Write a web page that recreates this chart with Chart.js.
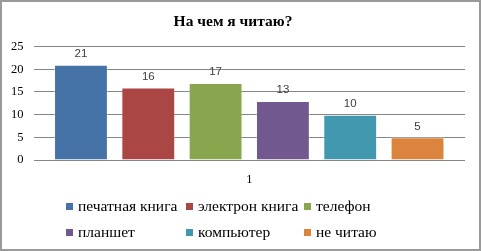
<!DOCTYPE html>
<html>
<head>
<meta charset="utf-8">
<script src="https://cdn.jsdelivr.net/npm/chart.js@4/dist/chart.umd.min.js"></script>
<style>
  html, body { margin: 0; padding: 0; background: #fff; }
  #wrap { position: relative; width: 481px; height: 251px; box-sizing: border-box; border: 2px solid #9a9a9a; }
  #chart { position: absolute; left: -2px; top: -2px; }
  #legend { position: absolute; left: 64px; top: 195px; display: grid; grid-template-columns: 120px 118px 120px; row-gap: 8px;
            font: 15.5px "Liberation Serif", "Times New Roman", serif; color: #000; }
  #legend div { display: flex; align-items: center; height: 18px; white-space: nowrap; }
  #legend span.box { display: inline-block; width: 7px; height: 7px; margin-right: 5px; }
</style>
</head>
<body>
<div id="wrap">
  <canvas id="chart" width="481" height="251"></canvas>
  <div id="legend"></div>
</div>
<script>
const titleText = "На чем я читаю?";
const categories = ["1"];
const seriesNames = ["печатная книга", "электрон книга", "телефон", "планшет", "компьютер", "не читаю"];
const seriesValues = [21, 16, 17, 13, 10, 5];
const seriesColors = ["#4572A7", "#AA4643", "#89A54E", "#71588F", "#4198AF", "#DB843D"];
const yTicks = [0, 5, 10, 15, 20, 25];

const serif = "'Liberation Serif', 'Times New Roman', serif";

// value labels above each bar
const barLabels = {
    id: "barLabels",
    afterDatasetsDraw(chart) {
        const ctx = chart.ctx;
        ctx.save();
        ctx.font = "11.5px 'Liberation Sans', Arial, sans-serif";
        ctx.fillStyle = "#404040";
        ctx.textAlign = "center";
        ctx.textBaseline = "bottom";
        chart.data.datasets.forEach((ds, i) => {
            chart.getDatasetMeta(i).data.forEach((bar, j) => {
                ctx.fillText(ds.data[j], bar.x, bar.y - 5);
            });
        });
        ctx.restore();
    }
};

const chartData = {
    labels: categories,
    datasets: seriesNames.map((name, i) => ({
        label: name,
        data: [seriesValues[i]],
        backgroundColor: seriesColors[i],
        borderColor: "rgba(255,255,255,0.35)",
        borderWidth: 1,
        categoryPercentage: 0.936,
        barPercentage: 0.8,
    })),
};

const myChart = new Chart(document.getElementById("chart"), {
    type: "bar",
    data: chartData,
    plugins: [barLabels],
    options: {
        responsive: false,
        animation: false,
        layout: { padding: { left: 1, right: 16, top: 13, bottom: 52 } },
        plugins: {
            legend: { display: false },
            tooltip: { enabled: false },
            title: {
                display: true,
                text: titleText,
                color: "#000",
                font: { family: serif, size: 15.5, weight: "bold" },
                padding: { top: 0, bottom: 15 },
            },
        },
        scales: {
            x: {
                grid: { display: false, drawTicks: false },
                border: { display: false },
                ticks: { color: "#000", font: { family: serif, size: 12.5 }, padding: 12 },
            },
            y: {
                min: yTicks[0],
                max: yTicks[yTicks.length - 1],
                afterBuildTicks: (axis) => { axis.ticks = yTicks.map((v) => ({ value: v })); },
                grid: { color: "#868686", drawTicks: false },
                border: { display: false },
                ticks: { color: "#000", font: { family: serif, size: 12.5 }, padding: 10 },
            },
        },
    },
});

// legend laid out in columns like the original
const legendEl = document.getElementById("legend");
myChart.data.datasets.forEach((ds) => {
    const item = document.createElement("div");
    item.innerHTML = '<span class="box" style="background:' + ds.backgroundColor + '"></span>' + ds.label;
    legendEl.appendChild(item);
});
</script>
</body>
</html>
